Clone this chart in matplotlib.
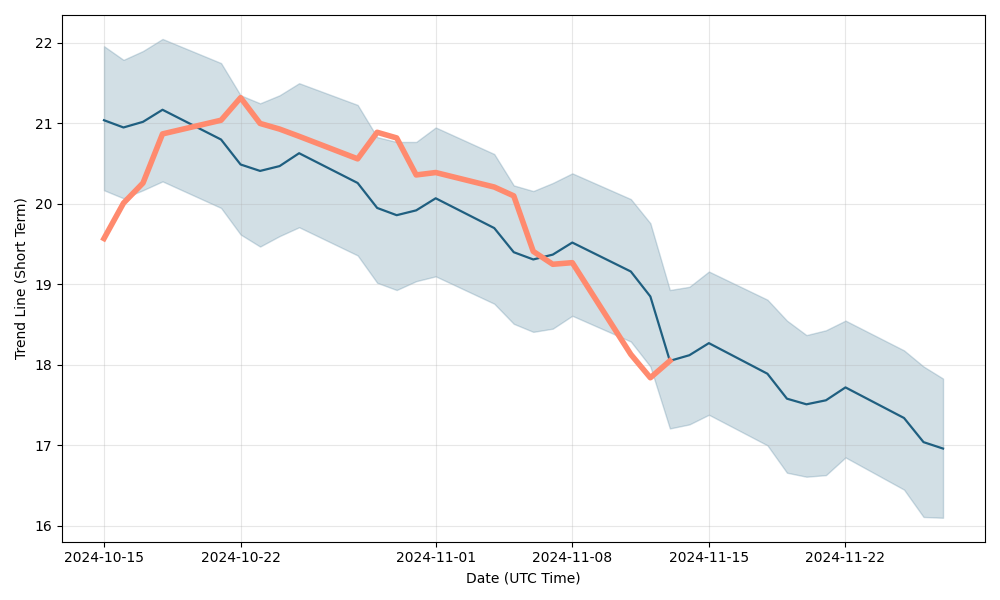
import matplotlib
matplotlib.use('Agg')
import matplotlib.pyplot as plt
import matplotlib.dates as mdates
import numpy as np
import pandas as pd

# trading days
dates = pd.to_datetime([
    '2024-10-15', '2024-10-16', '2024-10-17', '2024-10-18', '2024-10-21',
    '2024-10-22', '2024-10-23', '2024-10-24', '2024-10-25', '2024-10-28',
    '2024-10-29', '2024-10-30', '2024-10-31', '2024-11-01', '2024-11-04',
    '2024-11-05', '2024-11-06', '2024-11-07', '2024-11-08', '2024-11-11',
    '2024-11-12', '2024-11-13', '2024-11-14', '2024-11-15', '2024-11-18',
    '2024-11-19', '2024-11-20', '2024-11-21', '2024-11-22', '2024-11-25',
    '2024-11-26', '2024-11-27'])

trend = [21.04, 20.95, 21.02, 21.17, 20.80, 20.49, 20.41, 20.47, 20.63, 20.26,
         19.95, 19.86, 19.92, 20.07, 19.70, 19.40, 19.31, 19.37, 19.52, 19.16,
         18.85, 18.05, 18.12, 18.27, 17.89, 17.58, 17.51, 17.56, 17.72, 17.34,
         17.04, 16.96]

upper = [21.96, 21.79, 21.90, 22.05, 21.75, 21.35, 21.25, 21.35, 21.50, 21.23,
         20.83, 20.77, 20.77, 20.95, 20.62, 20.23, 20.16, 20.26, 20.38, 20.06,
         19.76, 18.93, 18.97, 19.16, 18.81, 18.55, 18.37, 18.43, 18.55, 18.18,
         17.98, 17.83]

lower = [20.17, 20.07, 20.17, 20.28, 19.95, 19.62, 19.47, 19.60, 19.71, 19.36,
         19.02, 18.93, 19.04, 19.10, 18.76, 18.51, 18.41, 18.45, 18.61, 18.29,
         17.98, 17.21, 17.26, 17.38, 17.00, 16.66, 16.61, 16.63, 16.85, 16.45,
         16.11, 16.10]

# actual price, only up to 2024-11-13
price = [19.57, 20.01, 20.26, 20.87, 21.04, 21.32, 21.00, 20.93, 20.84, 20.56,
         20.89, 20.82, 20.36, 20.39, 20.21, 20.10, 19.41, 19.25, 19.27, 18.13,
         17.84, 18.05]

line_color = '#1f5f80'

fig, ax = plt.subplots(figsize=(10, 6), dpi=100)
ax.fill_between(dates, lower, upper, color=line_color, alpha=0.2)
ax.plot(dates, trend, color=line_color, linewidth=1.6)
ax.plot(dates[:len(price)], price, color='#ff8a6e', linewidth=4)

ax.set_yticks([16, 17, 18, 19, 20, 21, 22])
ax.xaxis.set_major_locator(mdates.DayLocator(bymonthday=[1, 8, 15, 22]))
ax.xaxis.set_major_formatter(mdates.DateFormatter('%Y-%m-%d'))
ax.grid(True, alpha=0.3)
ax.set_xlabel('Date (UTC Time)')
ax.set_ylabel('Trend Line (Short Term)')

plt.tight_layout()
plt.savefig('out.png')
